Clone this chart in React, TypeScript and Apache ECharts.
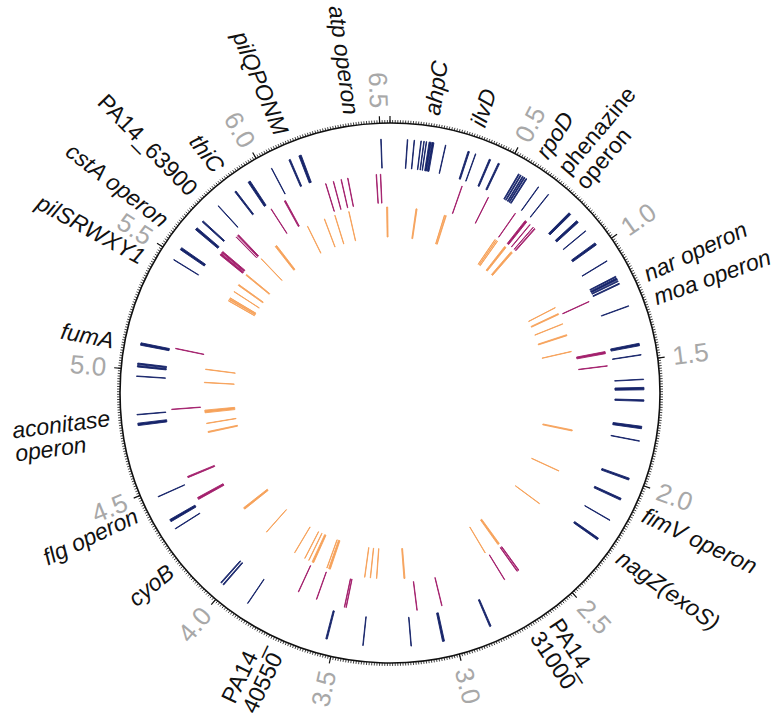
import React, { useEffect, useRef } from 'react';
import * as echarts from 'echarts';

// Genome length (Mb) and axis tick labels
const GENOME_MB = 6.54;
const TICK_LABELS = [0.5, 1.0, 1.5, 2.0, 2.5, 3.0, 3.5, 4.0, 4.5, 5.0, 5.5, 6.0, 6.5];

// Outer track (navy): feature spans [start, end] in Mb
const NAVY_FEATURES: [number, number][] = [
  [0.071, 0.073], [0.099, 0.101], [0.127, 0.129], [0.139, 0.141], [0.149, 0.151],
  [0.161, 0.170], [0.173, 0.181], [0.229, 0.231], [0.325, 0.331], [0.357, 0.359],
  [0.418, 0.424], [0.458, 0.464], [0.552, 0.556], [0.561, 0.565], [0.571, 0.575],
  [0.579, 0.583], [0.588, 0.592], [0.649, 0.651], [0.700, 0.702], [0.814, 0.824],
  [0.859, 0.869], [0.914, 0.916], [0.977, 0.987], [1.065, 1.067], [1.138, 1.142],
  [1.146, 1.154], [1.158, 1.162], [1.170, 1.174], [1.270, 1.272], [1.430, 1.440],
  [1.477, 1.479], [1.578, 1.580], [1.612, 1.622], [1.663, 1.669], [1.772, 1.782],
  [1.832, 1.834], [1.991, 1.999], [2.080, 2.088], [2.180, 2.182], [2.268, 2.276],
  [2.844, 2.850], [3.045, 3.053], [3.182, 3.184], [3.380, 3.382], [3.530, 3.536],
  [3.888, 3.890], [4.013, 4.017], [4.025, 4.029], [4.317, 4.319], [4.352, 4.362],
  [4.466, 4.468], [4.771, 4.781], [4.815, 4.817], [4.973, 4.975], [5.012, 5.018],
  [5.022, 5.028], [5.102, 5.112], [5.479, 5.481], [5.529, 5.539], [5.632, 5.642],
  [5.674, 5.680], [5.766, 5.768], [5.856, 5.862], [5.923, 5.933], [6.034, 6.036],
  [6.114, 6.120], [6.158, 6.168], [6.502, 6.504],
];

// Middle track (magenta)
const MAGENTA_FEATURES: [number, number][] = [
  [0.348, 0.350], [0.484, 0.486], [0.633, 0.635], [0.692, 0.702], [0.721, 0.723],
  [0.741, 0.743], [0.750, 0.754], [1.186, 1.188], [1.437, 1.447], [1.505, 1.507],
  [2.615, 2.618], [2.623, 2.626], [2.696, 2.698], [3.020, 3.022], [3.140, 3.142],
  [3.479, 3.481], [3.487, 3.489], [3.625, 3.627], [3.718, 3.720], [4.377, 4.387],
  [4.492, 4.498], [4.826, 4.828], [5.117, 5.119], [5.615, 5.624], [5.628, 5.636],
  [5.729, 5.731], [5.738, 5.745], [5.942, 5.944], [6.016, 6.022], [6.229, 6.231],
  [6.267, 6.269], [6.305, 6.307], [6.337, 6.339], [6.474, 6.476], [6.494, 6.496],
];

// Inner track (orange)
const ORANGE_FEATURES: [number, number][] = [
  [0.146, 0.152], [0.309, 0.311], [0.316, 0.320], [0.624, 0.626], [0.632, 0.634],
  [0.640, 0.642], [0.691, 0.701], [0.737, 0.747], [1.138, 1.140], [1.176, 1.182],
  [1.238, 1.240], [1.303, 1.309], [1.400, 1.402], [1.843, 1.849], [2.084, 2.086],
  [2.297, 2.299], [2.616, 2.626], [2.710, 2.712], [3.186, 3.192], [3.344, 3.346],
  [3.379, 3.381], [3.411, 3.413], [3.610, 3.620], [3.629, 3.631], [3.710, 3.720],
  [3.739, 3.741], [3.764, 3.766], [3.829, 3.831], [4.025, 4.027], [4.203, 4.213],
  [4.682, 4.688], [4.733, 4.735], [4.794, 4.809], [4.963, 4.965], [5.037, 5.039],
  [5.444, 5.446], [5.452, 5.458], [5.462, 5.464], [5.504, 5.506], [5.547, 5.553],
  [5.618, 5.624], [5.743, 5.745], [5.848, 5.858], [6.061, 6.063], [6.164, 6.166],
  [6.226, 6.228], [6.307, 6.309], [6.521, 6.527],
];

// Gene labels and their genome positions (Mb)
const GENE_NAMES = [
  'ahpC', 'ilvD', 'rpoD', 'phenazine\noperon', 'nar operon', 'moa operon',
  'fimV operon', 'nagZ(exoS)', 'PA14_\n31000', 'PA14_\n40550', 'cyoB', 'flg operon',
  'aconitase\noperon', 'fumA', 'pilSRWXY1', 'cstA operon', 'PA14_63900', 'thiC',
  'pilQPONM', 'atp operon',
];
const GENE_POS = [
  0.156, 0.329, 0.592, 0.73, 1.183, 1.275,
  2.098, 2.277, 2.66, 3.74, 4.20, 4.44,
  4.77, 5.10, 5.426, 5.583, 5.735, 5.861,
  6.128, 6.397,
];

const CX = 390;
const CY = 393;
const R = 270;
const FONT_FAMILY = "'Liberation Sans', Arial, Helvetica, sans-serif";

let measureCtx: CanvasRenderingContext2D | null = null;
function textWidth(text: string, font: string): number {
  if (!measureCtx) measureCtx = document.createElement('canvas').getContext('2d');
  if (!measureCtx) return text.length * 12;
  measureCtx.font = font;
  return Math.max(...text.split('\n').map((l) => measureCtx!.measureText(l).width));
}

export default function App() {
  const ref = useRef<HTMLDivElement>(null);

  useEffect(() => {
    if (!ref.current) return;
    const chart = echarts.init(ref.current, null, { renderer: 'svg' });

    const track = (data: [number, number][], r0: number, r1: number, color: string) => ({
      type: 'custom',
      coordinateSystem: 'polar',
      polarIndex: 0,
      silent: true,
      data,
      renderItem: (_params: any, api: any) => {
        const s = api.value(0);
        const e = api.value(1);
        const pts = [api.coord([r0, s]), api.coord([r1, s]), api.coord([r1, e]), api.coord([r0, e])];
        return {
          type: 'polygon',
          shape: { points: pts },
          style: { fill: color, stroke: color, lineWidth: 0.9 },
        };
      },
    });

    const labels = (
      texts: string[],
      positions: number[],
      rLab: number,
      color: string,
      fontSize: number,
      italicFn: (t: string) => boolean,
      lineHeight: number
    ) => ({
      type: 'custom',
      coordinateSystem: 'polar',
      polarIndex: 0,
      silent: true,
      data: positions.map((p, i) => ({ value: [p], name: texts[i] })),
      renderItem: (params: any, api: any) => {
        const pos = api.value(0);
        const text = texts[params.dataIndex];
        const p = api.coord([rLab, pos]);
        const cx = params.coordSys.cx;
        const cy = params.coordSys.cy;
        const vx = p[0] - cx;
        const vy = p[1] - cy;
        const dist = Math.sqrt(vx * vx + vy * vy);
        const ux = vx / dist;
        const uy = vy / dist;
        const phi = Math.atan2(vy, vx);
        const italic = italicFn(text);
        const fontStyle = italic ? 'italic' : 'normal';
        const font = `${fontStyle} ${fontSize}px ${FONT_FAMILY}`;
        const flip = ux < -1e-6;
        let x = p[0];
        let y = p[1];
        let rotation = -phi;
        if (flip) {
          const w = textWidth(text, font);
          x = cx + ux * (dist + w);
          y = cy + uy * (dist + w);
          rotation = Math.PI - phi;
        }
        return {
          type: 'text',
          x,
          y,
          rotation,
          style: {
            text,
            x: 0,
            y: 0,
            align: 'left',
            verticalAlign: 'middle',
            fill: color,
            fontSize,
            fontFamily: FONT_FAMILY,
            fontStyle,
            lineHeight,
          },
        };
      },
    });

    const option: any = {
      animation: false,
      backgroundColor: '#ffffff',
      polar: [
        { center: [CX, CY], radius: R },
        { center: [CX, CY], radius: R },
      ],
      angleAxis: [
        {
          polarIndex: 0,
          type: 'value',
          min: 0,
          max: GENOME_MB,
          interval: 0.01,
          startAngle: 90,
          clockwise: true,
          axisLine: { show: true, lineStyle: { color: '#111111', width: 1.6 } },
          axisTick: { show: true, length: 3, lineStyle: { color: '#111111', width: 0.8 } },
          axisLabel: { show: false },
          splitLine: { show: false },
        },
        {
          polarIndex: 1,
          type: 'value',
          min: 0,
          max: GENOME_MB,
          interval: 0.5,
          startAngle: 90,
          clockwise: true,
          axisLine: { show: false },
          axisTick: { show: true, length: 7, lineStyle: { color: '#111111', width: 1.2 } },
          axisLabel: { show: false },
          splitLine: { show: false },
        },
      ],
      radiusAxis: [
        { polarIndex: 0, type: 'value', min: 0, max: R, show: false },
        { polarIndex: 1, type: 'value', min: 0, max: R, show: false },
      ],
      series: [
        track(NAVY_FEATURES, 225, 254, '#16246a'),
        track(MAGENTA_FEATURES, 190, 219, '#a31f6c'),
        track(ORANGE_FEATURES, 156, 186, '#f6a25a'),
        labels(
          TICK_LABELS.map((v) => v.toFixed(1)),
          TICK_LABELS,
          285,
          '#a8a8a8',
          26,
          () => false,
          30
        ),
        labels(
          GENE_NAMES,
          GENE_POS,
          281,
          '#111111',
          23,
          (t) => !t.startsWith('PA14') && !t.startsWith('phenazine'),
          23
        ),
      ],
    };

    chart.setOption(option);
    return () => chart.dispose();
  }, []);

  return (
    <div
      ref={ref}
      style={{ position: 'absolute', left: 0, top: 0, width: 776, height: 717, background: '#ffffff' }}
    />
  );
}
